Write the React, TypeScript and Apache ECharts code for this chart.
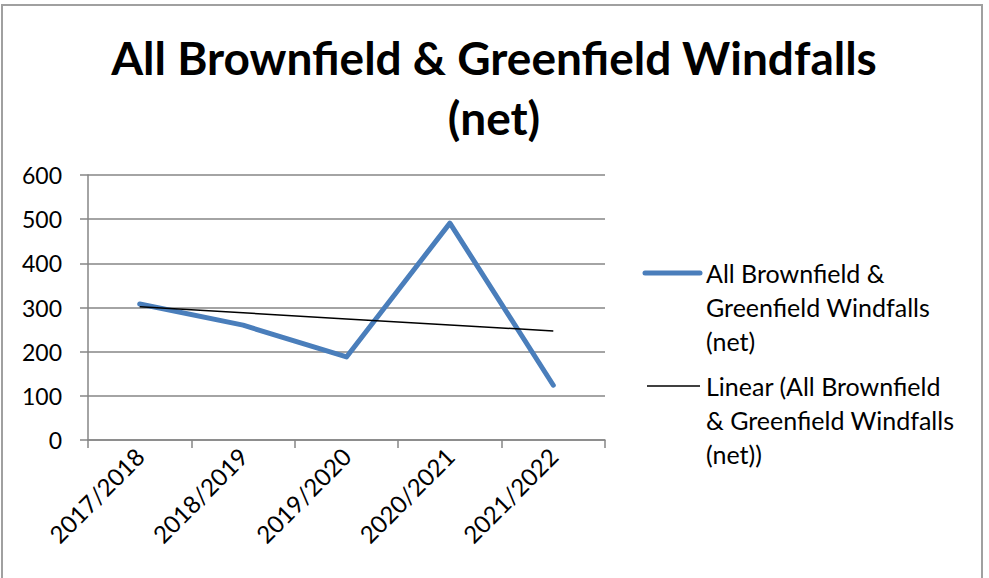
import React, { useEffect, useRef } from "react";
import * as echarts from "echarts";

const categories = ["2017/2018", "2018/2019", "2019/2020", "2020/2021", "2021/2022"];
const windfalls = [308, 260, 188, 491, 124];
const yTicks = [0, 100, 200, 300, 400, 500, 600];
const titleLines = ["All Brownfield & Greenfield Windfalls", "(net)"];
const seriesName = "All Brownfield & Greenfield Windfalls (net)";
const legendLines1 = ["All Brownfield &", "Greenfield Windfalls", "(net)"];
const legendLines2 = ["Linear (All Brownfield", "& Greenfield Windfalls", "(net))"];

function linearTrend(values: number[]): number[] {
  const n = values.length;
  const xs = values.map((_, i) => i + 1);
  const mx = xs.reduce((a, b) => a + b, 0) / n;
  const my = values.reduce((a, b) => a + b, 0) / n;
  let num = 0;
  let den = 0;
  xs.forEach((x, i) => {
    num += (x - mx) * (values[i] - my);
    den += (x - mx) * (x - mx);
  });
  const slope = num / den;
  return xs.map((x) => +(my + slope * (x - mx)).toFixed(2));
}

const FONT = "Lato, 'Open Sans', sans-serif";

export default function App() {
  const ref = useRef<HTMLDivElement>(null);
  useEffect(() => {
    if (!ref.current) return;
    const chart = echarts.init(ref.current, undefined, { renderer: "svg" });
    const trend = linearTrend(windfalls);
    const legendText = (lines: string[], x: number, y: number) =>
      lines.map((t, i) => ({
        type: "text",
        x,
        y: y + i * 34,
        style: {
          text: t,
          fill: "#000",
          font: `25px ${FONT}`,
          textVerticalAlign: "middle",
        },
      }));
    chart.setOption({
      animation: false,
      backgroundColor: "#fff",
      textStyle: { fontFamily: FONT },
      grid: { left: 88, right: 384, top: 175, bottom: 138, containLabel: false },
      xAxis: {
        type: "category",
        data: categories,
        boundaryGap: true,
        axisLine: { lineStyle: { color: "#868686", width: 1.5 } },
        axisTick: { show: true, interval: 0, length: 8, lineStyle: { color: "#868686", width: 1.5 } },
        axisLabel: { rotate: 45, color: "#000", fontSize: 24, margin: 12, fontFamily: FONT, interval: 0 },
        splitLine: { show: false },
      },
      yAxis: {
        type: "value",
        min: yTicks[0],
        max: yTicks[yTicks.length - 1],
        interval: 100,
        axisLine: { show: true, lineStyle: { color: "#868686", width: 1.5 } },
        axisTick: { show: true, length: 8, lineStyle: { color: "#868686", width: 1.5 } },
        axisLabel: { color: "#000", fontSize: 23, margin: 26, fontFamily: FONT },
        splitLine: { show: true, lineStyle: { color: "#868686", width: 1.5 } },
      },
      series: [
        {
          name: seriesName,
          type: "line",
          data: windfalls,
          symbol: "none",
          lineStyle: { color: "#4A7EBB", width: 5, cap: "round", join: "round" },
          z: 2,
        },
        {
          name: "Linear (" + seriesName + ")",
          type: "line",
          data: trend,
          symbol: "none",
          lineStyle: { color: "#000", width: 1.5 },
          z: 3,
        },
      ],
      graphic: [
        {
          type: "rect",
          shape: { x: 2, y: 5, width: 980, height: 600 },
          style: { fill: "none", stroke: "#a0a0a0", lineWidth: 2 },
          silent: true,
        },
        ...titleLines.map((t, i) => ({
          type: "text",
          x: 494,
          y: 57 + i * 60,
          style: {
            text: t,
            fill: "#000",
            font: `bold 46px ${FONT}`,
            textAlign: "center",
            textVerticalAlign: "middle",
          },
        })),
        {
          type: "line",
          shape: { x1: 645, y1: 273, x2: 700, y2: 273 },
          style: { stroke: "#4A7EBB", lineWidth: 5, lineCap: "round" },
        },
        ...legendText(legendLines1, 706, 273),
        {
          type: "line",
          shape: { x1: 647, y1: 386, x2: 700, y2: 386 },
          style: { stroke: "#000", lineWidth: 1.5 },
        },
        ...legendText(legendLines2, 706, 386),
      ],
    });
    return () => chart.dispose();
  }, []);
  return (
    <div
      ref={ref}
      style={{ position: "absolute", left: 0, top: 0, width: 989, height: 578 }}
    />
  );
}
